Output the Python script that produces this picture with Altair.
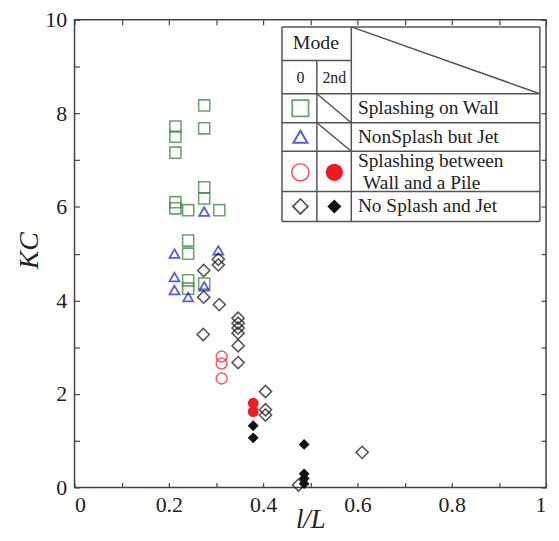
import altair as alt
import pandas as pd

# ---------------- data ----------------
sq_x = [0.214, 0.214, 0.214, 0.275, 0.275, 0.214, 0.214, 0.241, 0.275, 0.275,
        0.307, 0.241, 0.241, 0.241, 0.241, 0.275]
sq_y = [7.72, 7.50, 7.16, 8.17, 7.68, 6.10, 5.97, 5.93, 6.42, 6.18,
        5.93, 5.28, 5.00, 4.43, 4.25, 4.36]

tri_x = [0.275, 0.212, 0.305, 0.212, 0.212, 0.275, 0.241]
tri_y = [5.90, 5.00, 5.07, 4.50, 4.22, 4.30, 4.07]

circ_open_x = [0.312, 0.312, 0.312]
circ_open_y = [2.80, 2.65, 2.33]

circ_fill_x = [0.379, 0.379]
circ_fill_y = [1.80, 1.62]

dia_open_x = [0.305, 0.305, 0.274, 0.274, 0.307, 0.347, 0.347, 0.347, 0.347,
              0.273, 0.347, 0.347, 0.405, 0.405, 0.405, 0.475, 0.610]
dia_open_y = [4.88, 4.76, 4.64, 4.07, 3.91, 3.62, 3.51, 3.41, 3.30,
              3.27, 3.03, 2.67, 2.05, 1.66, 1.55, 0.05, 0.75]

dia_fill_x = [0.379, 0.379, 0.487, 0.487, 0.487, 0.487]
dia_fill_y = [1.32, 1.06, 0.92, 0.29, 0.19, 0.08]

x_ticks = [0, 0.1, 0.2, 0.3, 0.4, 0.5, 0.6, 0.7, 0.8, 0.9, 1]
y_ticks = [0, 1, 2, 3, 4, 5, 6, 7, 8, 9, 10]

legend_labels = ["Splashing on Wall", "NonSplash but Jet", "Splashing between",
                 "Wall and a Pile", "No Splash and Jet"]

# ---------------- layout of the table legend (data units) ----------------
xL, xC1, xC2, xR = 0.44, 0.514, 0.587, 0.987
yT, yM, yH, y3, y4, y5, yB = 9.85, 9.13, 8.42, 7.80, 7.19, 6.33, 5.69
segs = [
    (xL, yT, xR, yT), (xL, yB, xR, yB), (xL, yT, xL, yB), (xR, yT, xR, yB),
    (xL, yM, xC2, yM), (xL, yH, xR, yH), (xL, y3, xR, y3), (xL, y4, xR, y4),
    (xL, y5, xR, y5), (xC1, yM, xC1, yB), (xC2, yT, xC2, yB),
    (xC2, yT, xR, yH), (xC1, yH, xC2, y3), (xC1, y3, xC2, y4),
]
seg_df = pd.DataFrame(segs, columns=["x", "y", "x2", "y2"])

GREEN, BLUE, RED, BLACK = "#2f7f36", "#1515d8", "#f01a22", "#111111"
FRAME = "#444444"
FONT = "Liberation Serif"

xscale = alt.Scale(domain=[0, 1], nice=False, zero=False)
yscale = alt.Scale(domain=[0, 10], nice=False, zero=False)


def pts(xs, ys, **mark):
    df = pd.DataFrame({"x": xs, "y": ys})
    return alt.Chart(df).mark_point(**mark).encode(
        x=alt.X("x:Q", scale=xscale, axis=None),
        y=alt.Y("y:Q", scale=yscale, axis=None),
    )


# main layer carries bottom/left axes
bottom_axis = alt.Axis(
    orient="bottom", values=x_ticks, grid=False, domain=False, offset=-5,
    tickSize=5, tickColor=FRAME, tickWidth=1.2, labelPadding=7,
    labelExpr="round(datum.value*10) % 2 == 0 ? format(datum.value, '~g') : ''",
    labelFont=FONT, labelFontSize=22, labelColor="#222",
    titleFont=FONT, titleFontSize=27, titleFontStyle="italic", titleFontWeight="normal",
    titleColor="#222", titleBaseline="alphabetic", titleY=45,
)
left_axis = alt.Axis(
    orient="left", values=y_ticks, grid=False, domain=False, offset=-5,
    tickSize=5, tickColor=FRAME, tickWidth=1.2, labelPadding=8,
    labelExpr="datum.value % 2 == 0 ? format(datum.value, 'd') : ''",
    labelFont=FONT, labelFontSize=22, labelColor="#222",
    titleFont=FONT, titleFontSize=28, titleFontStyle="italic", titleFontWeight="normal",
    titleColor="#222", titleAngle=270, titleBaseline="middle", titleAlign="center",
    titleX=-50, titleY=232,
)

squares = alt.Chart(pd.DataFrame({"x": sq_x, "y": sq_y})).mark_point(
    shape="square", filled=False, color=GREEN, size=125, strokeWidth=1.6
).encode(
    x=alt.X("x:Q", scale=xscale, axis=bottom_axis, title="l/L"),
    y=alt.Y("y:Q", scale=yscale, axis=left_axis, title="KC"),
)

triangles = pts(tri_x, tri_y, shape="triangle-up", filled=False, color=BLUE, size=100, strokeWidth=1.8)
circ_o = pts(circ_open_x, circ_open_y, shape="circle", filled=False, color=RED, size=120, strokeWidth=1.5)
circ_f = pts(circ_fill_x, circ_fill_y, shape="circle", filled=True, color=RED, size=120, opacity=1)
dia_o = pts(dia_open_x, dia_open_y, shape="diamond", filled=False, color=BLACK, size=150, strokeWidth=1.6)
dia_f = pts(dia_fill_x, dia_fill_y, shape="diamond", filled=True, color=BLACK, size=120, opacity=1)

# table legend: lines (this layer carries top/right mirror axes)
top_axis = alt.Axis(orient="top", values=x_ticks, grid=False, domain=False, offset=-5,
                    tickSize=5, tickColor=FRAME, tickWidth=1.2, labels=False, title="")
right_axis = alt.Axis(orient="right", values=y_ticks, grid=False, domain=False, offset=-5,
                      tickSize=5, tickColor=FRAME, tickWidth=1.2, labels=False, title="")
table = alt.Chart(seg_df).mark_rule(color="#555555", strokeWidth=1.5).encode(
    x=alt.X("x:Q", scale=xscale, axis=top_axis),
    y=alt.Y("y:Q", scale=yscale, axis=right_axis),
    x2="x2:Q", y2="y2:Q",
)

# legend symbols
cx1, cx2 = 0.479, 0.551
ry = [8.11, 7.50, 6.74, 6.01]
leg_sq = pts([cx1], [ry[0]], shape="square", filled=False, color=GREEN, size=270, strokeWidth=1.8)
leg_tri = pts([cx1], [ry[1]], shape="triangle-up", filled=False, color=BLUE, size=200, strokeWidth=2)
leg_co = pts([cx1], [ry[2]], shape="circle", filled=False, color=RED, size=300, strokeWidth=1.6)
leg_cf = pts([cx2], [ry[2]], shape="circle", filled=True, color=RED, size=300, opacity=1)
leg_do = pts([cx1], [ry[3]], shape="diamond", filled=False, color=BLACK, size=230, strokeWidth=1.8)
leg_df = pts([cx2], [ry[3]], shape="diamond", filled=True, color=BLACK, size=200, opacity=1)

# legend text
lab_df = pd.DataFrame({
    "x": [0.601, 0.601, 0.601, 0.612, 0.601],
    "y": [8.11, 7.50, 6.98, 6.51, 6.01],
    "t": legend_labels,
})
labels = alt.Chart(lab_df).mark_text(
    align="left", baseline="middle", font=FONT, fontSize=19.5, color="#222"
).encode(
    x=alt.X("x:Q", scale=xscale, axis=None),
    y=alt.Y("y:Q", scale=yscale, axis=None),
    text="t:N",
)
head_df = pd.DataFrame({"x": [0.512], "y": [9.50], "t": ["Mode"]})
head = alt.Chart(head_df).mark_text(
    align="center", baseline="middle", font=FONT, fontSize=20, color="#222"
).encode(
    x=alt.X("x:Q", scale=xscale, axis=None),
    y=alt.Y("y:Q", scale=yscale, axis=None),
    text="t:N",
)
mode_df = pd.DataFrame({"x": [cx1, cx2], "y": [8.76, 8.76], "t": ["0", "2nd"]})
modes = alt.Chart(mode_df).mark_text(
    align="center", baseline="middle", font=FONT, fontSize=16, color="#222"
).encode(
    x=alt.X("x:Q", scale=xscale, axis=None),
    y=alt.Y("y:Q", scale=yscale, axis=None),
    text="t:N",
)

chart = alt.layer(
    squares, table, triangles, circ_o, circ_f, dia_o, dia_f,
    leg_sq, leg_tri, leg_co, leg_cf, leg_do, leg_df, labels, head, modes,
).resolve_axis(
    x="independent", y="independent"
).properties(
    width=475, height=471, autosize="none",
    padding={"left": 67, "top": 10, "right": 5, "bottom": 50},
).configure_view(
    stroke=FRAME, strokeWidth=1.5
)

chart.save("out.html", embed_options={"renderer": "svg", "actions": False})
